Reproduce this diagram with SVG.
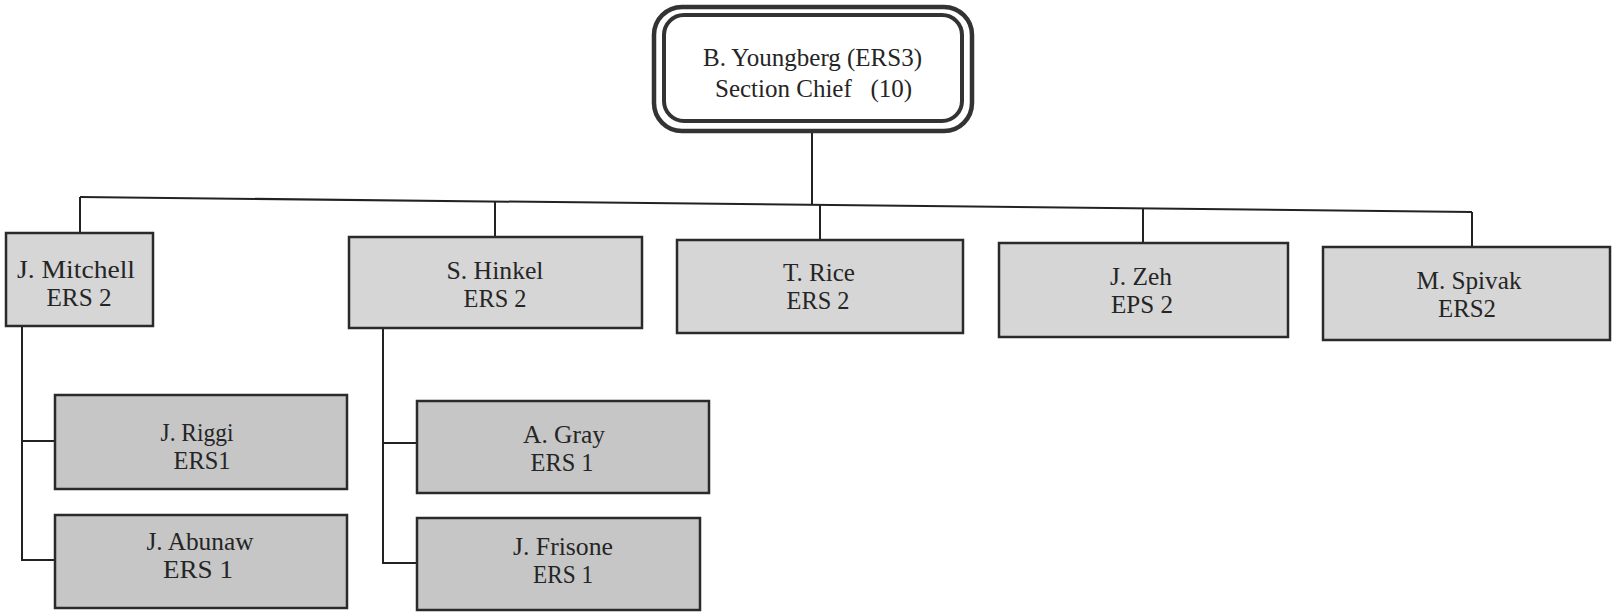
<svg xmlns="http://www.w3.org/2000/svg" width="1612" height="613" viewBox="0 0 1612 613">
<style>
  .bg{fill:#ffffff}
  .box1{fill:#d6d6d6;stroke:#2a2a2a;stroke-width:2.5}
  .box2{fill:#c6c6c6;stroke:#2a2a2a;stroke-width:2.5}
  .txt{font-family:"Liberation Serif","Times New Roman",serif;font-size:25px;fill:#252525;text-anchor:middle}
  .top{font-family:"Liberation Serif","Times New Roman",serif;font-size:25px;fill:#252525}
  .conn{stroke:#222;stroke-width:2;fill:none}
  .outer{fill:#ffffff;stroke:#333;stroke-width:4.5}
  .inner{fill:#ffffff;stroke:#333;stroke-width:4}
</style>
<rect class="bg" x="0" y="0" width="1612" height="613"/>
<g id="connectors">
  <line class="conn" x1="812" y1="131" x2="812" y2="205"/>
  <line class="conn" x1="80" y1="197" x2="1472" y2="212"/>
  <line class="conn" x1="80" y1="197" x2="80" y2="233"/>
  <line class="conn" x1="495" y1="201.5" x2="495" y2="237"/>
  <line class="conn" x1="820" y1="205" x2="820" y2="240"/>
  <line class="conn" x1="1143" y1="208.5" x2="1143" y2="243"/>
  <line class="conn" x1="1472" y1="212" x2="1472" y2="247"/>
  <polyline class="conn" points="22,326 22,560 55,560"/>
  <line class="conn" x1="22" y1="441" x2="55" y2="441"/>
  <polyline class="conn" points="383,328 383,563 417,563"/>
  <line class="conn" x1="383" y1="443" x2="417" y2="443"/>
</g>
<g id="youngberg">
  <rect class="outer" x="654" y="7" width="318" height="124" rx="28"/>
  <rect class="inner" x="664" y="15" width="298" height="106" rx="20"/>
  <text class="top" x="812.5" y="66" text-anchor="middle">B. Youngberg (ERS3)</text>
  <text class="top" x="715" y="97" xml:space="preserve">Section Chief   (10)</text>
</g>
<g id="mitchell">
  <rect class="box1" x="6" y="233" width="147" height="93"/>
  <text class="txt" x="76" y="278" textLength="118" lengthAdjust="spacingAndGlyphs">J. Mitchell</text>
  <text class="txt" x="79" y="306" textLength="65" lengthAdjust="spacingAndGlyphs">ERS 2</text>
</g>
<g id="hinkel">
  <rect class="box1" x="349" y="237" width="293" height="91"/>
  <text class="txt" x="495" y="279" textLength="97" lengthAdjust="spacingAndGlyphs">S. Hinkel</text>
  <text class="txt" x="495" y="307" textLength="63" lengthAdjust="spacingAndGlyphs">ERS 2</text>
</g>
<g id="rice">
  <rect class="box1" x="677" y="240" width="286" height="93"/>
  <text class="txt" x="819" y="281" textLength="72" lengthAdjust="spacingAndGlyphs">T. Rice</text>
  <text class="txt" x="818" y="309" textLength="63" lengthAdjust="spacingAndGlyphs">ERS 2</text>
</g>
<g id="zeh">
  <rect class="box1" x="999" y="243" width="289" height="94"/>
  <text class="txt" x="1141" y="285" textLength="62" lengthAdjust="spacingAndGlyphs">J. Zeh</text>
  <text class="txt" x="1142" y="313" textLength="62" lengthAdjust="spacingAndGlyphs">EPS 2</text>
</g>
<g id="spivak">
  <rect class="box1" x="1323" y="247" width="287" height="93"/>
  <text class="txt" x="1469" y="288.5" textLength="105" lengthAdjust="spacingAndGlyphs">M. Spivak</text>
  <text class="txt" x="1467" y="316.5" textLength="58" lengthAdjust="spacingAndGlyphs">ERS2</text>
</g>
<g id="riggi">
  <rect class="box2" x="55" y="395" width="292" height="94"/>
  <text class="txt" x="197" y="440.5" textLength="73" lengthAdjust="spacingAndGlyphs">J. Riggi</text>
  <text class="txt" x="202" y="468.5" textLength="57" lengthAdjust="spacingAndGlyphs">ERS1</text>
</g>
<g id="abunaw">
  <rect class="box2" x="55" y="515" width="292" height="93"/>
  <text class="txt" x="200" y="549.5" textLength="107" lengthAdjust="spacingAndGlyphs">J. Abunaw</text>
  <text class="txt" x="198" y="577.5" textLength="70" lengthAdjust="spacingAndGlyphs">ERS 1</text>
</g>
<g id="gray">
  <rect class="box2" x="417" y="401" width="292" height="92"/>
  <text class="txt" x="564" y="442.5" textLength="82" lengthAdjust="spacingAndGlyphs">A. Gray</text>
  <text class="txt" x="562" y="470.5" textLength="63" lengthAdjust="spacingAndGlyphs">ERS 1</text>
</g>
<g id="frisone">
  <rect class="box2" x="417" y="518" width="283" height="92"/>
  <text class="txt" x="563" y="554.5" textLength="100" lengthAdjust="spacingAndGlyphs">J. Frisone</text>
  <text class="txt" x="563" y="582.5" textLength="60" lengthAdjust="spacingAndGlyphs">ERS 1</text>
</g>
</svg>
